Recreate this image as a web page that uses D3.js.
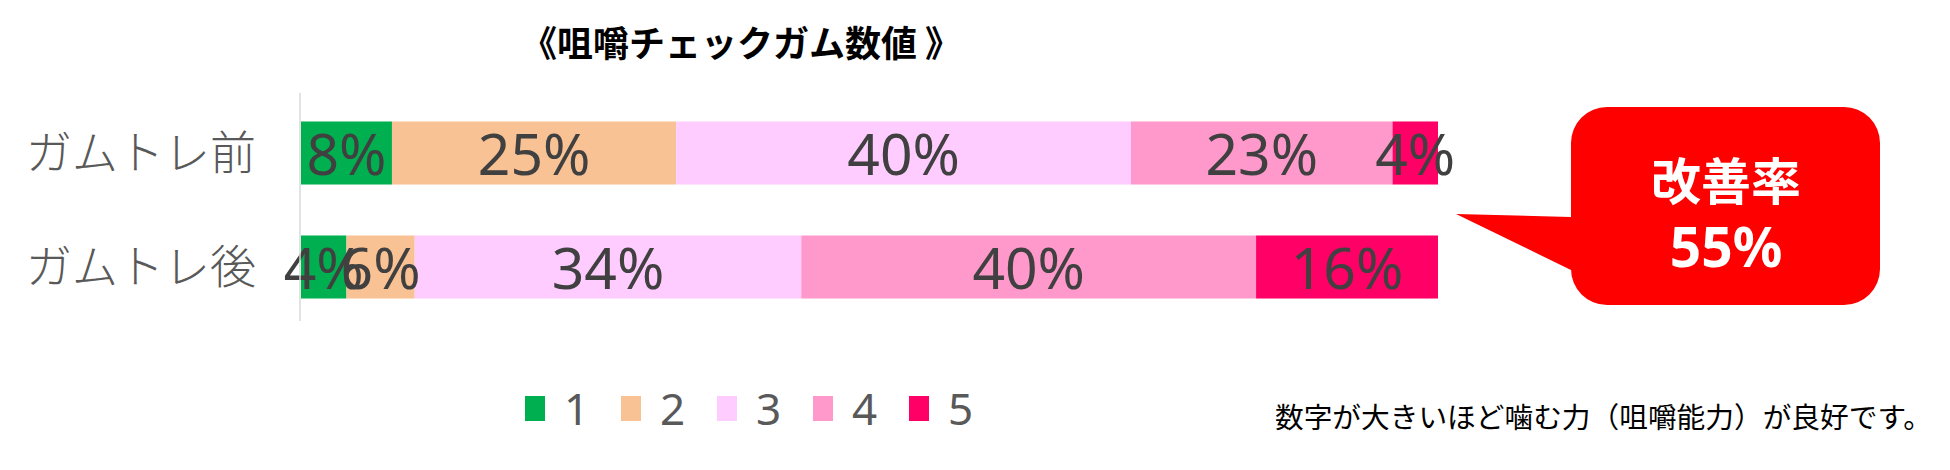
<!DOCTYPE html>
<html><head><meta charset="utf-8">
<script src="https://cdn.jsdelivr.net/npm/d3@7"></script>
<style>html,body{margin:0;padding:0;background:#fff;}svg{display:block;}</style>
</head><body><svg id="c" width="1950" height="470"></svg>
<script>
const categories = ["ガムトレ前", "ガムトレ後"];
const seriesKeys = ["1", "2", "3", "4", "5"];
const series1 = [8, 4];
const series2 = [25, 6];
const series3 = [40, 34];
const series4 = [23, 40];
const series5 = [4, 16];
const seriesColors = ["#00B050", "#F8C294", "#FFCCFF", "#FF99CC", "#FF0066"];
const titleText = "《咀嚼チェックガム数値 》";
const calloutLines = ["改善率", "55%"];
const footnote = "数字が大きいほど噛む力（咀嚼能力）が良好です。";

const table = categories.map((c, i) => ({cat: c, "1": series1[i], "2": series2[i], "3": series3[i], "4": series4[i], "5": series5[i]}));
const stacked = d3.stack().keys(seriesKeys)(table);

const svg = d3.select("#c");
const x = d3.scaleLinear().domain([0, 100]).range([301, 1438]);
const y = d3.scaleBand().domain(categories).range([96, 324]).paddingInner(0.447).paddingOuter(0.2235);
const color = d3.scaleOrdinal().domain(seriesKeys).range(seriesColors);

// title
svg.append("text").attr("x", 741).attr("y", 41).attr("text-anchor", "middle").attr("dominant-baseline", "central")
  .attr("font-family", "'Noto Sans CJK JP'").attr("font-weight", 700).attr("font-size", 36).attr("fill", "#000")
  .text(titleText);

// bars
const g = svg.append("g");
stacked.forEach(s => {
  g.selectAll(null).data(s).enter().append("rect")
    .attr("x", d => x(d[0])).attr("width", d => x(d[1]) - x(d[0]))
    .attr("y", d => y(d.data.cat)).attr("height", y.bandwidth())
    .attr("fill", color(s.key));
});
// axis line
svg.append("line").attr("x1", 300).attr("x2", 300).attr("y1", 93).attr("y2", 321)
  .attr("stroke", "#d9d9d9").attr("stroke-width", 1.5);

// category labels
const yAxis = d3.axisLeft(y).tickSize(0).tickPadding(0);
const ya = svg.append("g").attr("transform", "translate(256,0)").call(yAxis);
ya.select(".domain").remove();
ya.selectAll("text").attr("font-family", "'Noto Sans CJK JP'").attr("font-weight", 300)
  .attr("font-size", 46).attr("fill", "#595959").attr("dy", "0.35em");

// data labels
stacked.forEach(s => {
  g.selectAll(null).data(s).enter().append("text")
    .attr("x", d => (x(d[0]) + x(d[1])) / 2).attr("y", d => y(d.data.cat) + y.bandwidth() / 2)
    .attr("text-anchor", "middle").attr("dominant-baseline", "central")
    .attr("font-family", "'Noto Sans'").attr("font-size", 57).attr("fill", "#404040")
    .text(d => (d[1] - d[0]) + "%");
});

// callout
const rx0 = 1571, rx1 = 1880, ry0 = 107, ry1 = 305, r = 36;
const p = d3.path();
p.moveTo(rx0 + r, ry0);
p.lineTo(rx1 - r, ry0); p.arcTo(rx1, ry0, rx1, ry0 + r, r);
p.lineTo(rx1, ry1 - r); p.arcTo(rx1, ry1, rx1 - r, ry1, r);
p.lineTo(rx0 + r, ry1); p.arcTo(rx0, ry1, rx0, ry1 - r, r);
p.lineTo(rx0, 270); p.lineTo(1456, 214); p.lineTo(rx0, 217);
p.lineTo(rx0, ry0 + r); p.arcTo(rx0, ry0, rx0 + r, ry0, r);
p.closePath();
svg.append("path").attr("d", p.toString()).attr("fill", "#FF0000");
svg.append("text").attr("x", 1726).attr("y", 178).attr("text-anchor", "middle").attr("dominant-baseline", "central")
  .attr("font-family", "'Noto Sans CJK JP'").attr("font-weight", 700).attr("font-size", 50).attr("fill", "#fff").text(calloutLines[0]);
svg.append("text").attr("x", 1726).attr("y", 245).attr("text-anchor", "middle").attr("dominant-baseline", "central")
  .attr("font-family", "'Noto Sans'").attr("font-weight", 700).attr("font-size", 55).attr("fill", "#fff").text(calloutLines[1]);

// legend
const lx = d3.scalePoint().domain(seriesKeys).range([525, 909]);
const lg = svg.append("g");
lg.selectAll("rect").data(seriesKeys).enter().append("rect")
  .attr("x", d => lx(d)).attr("y", 396).attr("width", 20).attr("height", 25).attr("fill", d => color(d));
lg.selectAll("text").data(seriesKeys).enter().append("text")
  .attr("x", d => lx(d) + 39).attr("y", 408).attr("dominant-baseline", "central")
  .attr("font-family", "'Noto Sans'").attr("font-size", 44).attr("fill", "#595959").text(d => d);

// footnote
svg.append("text").attr("x", 1275).attr("y", 415).attr("dominant-baseline", "central")
  .attr("font-family", "'Noto Sans CJK JP'").attr("font-size", 28.7).attr("fill", "#000").text(footnote);
</script></body></html>
